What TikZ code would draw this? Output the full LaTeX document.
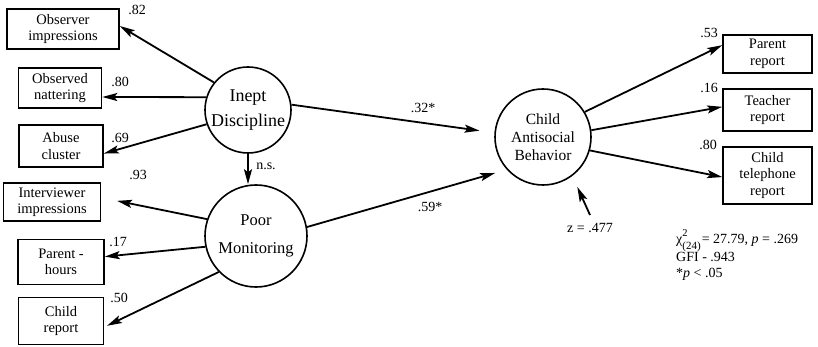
\documentclass[tikz,border=0pt]{standalone}
\usepackage{fontspec}
\setmainfont{Liberation Serif}
\usetikzlibrary{arrows.meta,calc}

\begin{document}
\begin{tikzpicture}[x=1pt,y=-1pt,
  box/.style={draw,line width=1.6pt,align=center,inner sep=0pt,
    font=\fontsize{14.5}{16.5}\selectfont},
  latent/.style={draw,circle,line width=1.6pt,align=center,inner sep=0pt},
  link/.style={line width=1.8pt,-{Stealth[length=15pt,width=8pt,inset=3pt]}},
  coef/.style={font=\fontsize{14}{16}\selectfont,inner sep=0pt},
]
\useasboundingbox (0,0) rectangle (818,347);

% indicator boxes, left side
\node[box,minimum width=112pt,minimum height=40pt] (obs) at (63,29) {Observer\\impressions};
\node[box,minimum width=83pt,minimum height=40pt] (nat) at (60,88) {Observed\\nattering};
\node[box,minimum width=84pt,minimum height=42pt] (abu) at (61,146) {Abuse\\cluster};
\node[box,minimum width=97pt,minimum height=38pt] (int) at (52,202) {Interviewer\\impressions};
\node[box,minimum width=86pt,minimum height=45pt] (phr) at (61,262) {Parent -\\hours};
\node[box,minimum width=85pt,minimum height=47pt] (chr) at (61,321) {Child\\report};

% indicator boxes, right side
\node[box,minimum width=89pt,minimum height=38pt] (par) at (767.5,54) {Parent\\report};
\node[box,minimum width=89pt,minimum height=42pt] (tea) at (767.5,110) {Teacher\\report};
\node[box,minimum width=89pt,minimum height=57pt] (tel) at (767.5,175.5) {Child\\telephone\\report};

% latent constructs
\node[latent,minimum size=86pt,font=\fontsize{18}{25}\selectfont] (ind) at (248,110) {Inept\\Discipline};
\node[latent,minimum size=102pt,font=\fontsize{16.5}{28}\selectfont] (pmo) at (256,236) {Poor\\Monitoring};
\node[latent,minimum size=96pt,font=\fontsize{15.5}{18}\selectfont] (cab) at (543,137) {Child\\Antisocial\\Behavior};

% measurement paths
\draw[link] (ind.141) -- (obs.3);
\draw[link] (ind.163) -- (nat.-12);
\draw[link] (ind.199) -- (abu.-10);
\draw[link,shorten >=16pt] (pmo.161) -- (int.5);
\draw[link] (pmo.192) -- (phr.7);
\draw[link,shorten >=3pt] (pmo.224) -- (chr.-8);
\draw[link] (cab.31) -- (par.169);
\draw[link] (cab.8) -- (tea.176);
\draw[link] (cab.-16) -- (tel.182);

% structural paths
\draw[link] (ind.south) -- (ind.south |- pmo.north);
\draw[link,shorten >=15pt] (ind.7) -- (cab.175);
\draw[link,shorten >=12pt] (pmo.10) -- (cab.222);
\coordinate (zres) at (590,215);
\draw[link,shorten >=12pt] (zres) -- (cab.307);

% coefficients
\node[coef] at (137,10) {.82};
\node[coef] at (120,82) {.80};
\node[coef] at (120,138) {.69};
\node[coef] at (266,166) {n.s.};
\node[coef] at (138,175) {.93};
\node[coef] at (118,242) {.17};
\node[coef] at (119,298) {.50};
\node[coef] at (423,108) {.32*};
\node[coef] at (430,207) {.59*};
\node[coef] at (709,33) {.53};
\node[coef] at (709,88) {.16};
\node[coef] at (708,145) {.80};
\node[coef] at (590,228) {z = .477};

% fit statistics
\node[coef,anchor=north west,align=left] (fit) at (676,229)
  {χ\rlap{\raisebox{1.1ex}{\fontsize{10.5}{10.5}\selectfont 2}}\raisebox{-0.9ex}{\fontsize{11}{11}\selectfont (24)}\kern1pt= 27.79, \textit{p} = .269\\
   GFI - .943\\
   *\textit{p} < .05};
\end{tikzpicture}
\end{document}
